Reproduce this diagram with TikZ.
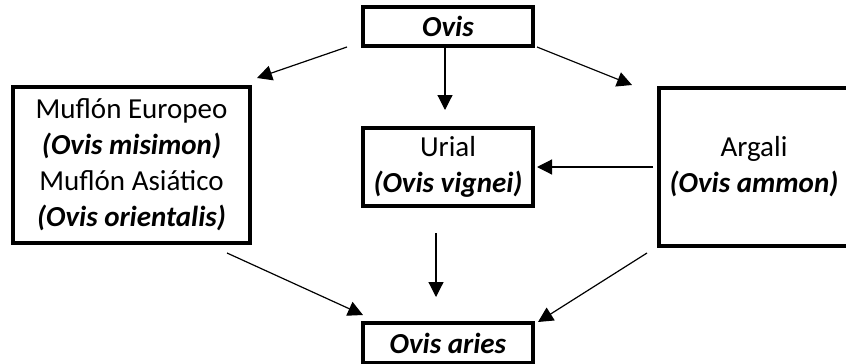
\documentclass[tikz,border=0pt]{standalone}
\usepackage{fontspec}
\setmainfont{Carlito}
\usetikzlibrary{arrows.meta}
\begin{document}
\begin{tikzpicture}[x=1pt,y=-1pt,
  box/.style={draw=black,line width=3.2pt,rectangle,inner sep=0pt,align=center,
    font=\fontsize{29}{36}\selectfont},
  arr/.style={line width=1.2pt,-{Triangle[length=15pt,width=15pt]}}]
\useasboundingbox (0,0) rectangle (846,364);
\node[box,minimum width=170pt,minimum height=39pt] (ovis) at (448,26.5) {\textbf{\textit{Ovis}}};
\node[box,minimum width=237pt,minimum height=156pt] (muflon) at (131.5,165)
  {Muflón Europeo\\\textbf{\textit{(Ovis misimon)}}\\Muflón Asiático\\\textbf{\textit{(Ovis orientalis)}}};
\node[box,minimum width=170pt,minimum height=78pt] (urial) at (448,167)
  {Urial\\\textbf{\textit{(Ovis vignei)}}};
\node[box,minimum width=190pt,minimum height=158pt] (argali) at (754,167)
  {Argali\\\textbf{\textit{(Ovis ammon)}}};
\node[box,minimum width=170pt,minimum height=40pt] (aries) at (448,343) {\textbf{\textit{Ovis aries}}};
\coordinate (s1) at (347,47);  \coordinate (e1) at (257,78);
\coordinate (s2) at (445,47);  \coordinate (e2) at (445,110);
\coordinate (s3) at (537,47);  \coordinate (e3) at (632,85);
\coordinate (s4) at (653,167); \coordinate (e4) at (537,167);
\coordinate (s5) at (227,253); \coordinate (e5) at (363,315);
\coordinate (s6) at (436,233); \coordinate (e6) at (436,297);
\coordinate (s7) at (647,253); \coordinate (e7) at (538,322);
\draw[arr] (s1) -- (e1);
\draw[arr] (s2) -- (e2);
\draw[arr] (s3) -- (e3);
\draw[arr] (s4) -- (e4);
\draw[arr] (s5) -- (e5);
\draw[arr] (s6) -- (e6);
\draw[arr] (s7) -- (e7);
\end{tikzpicture}
\end{document}
